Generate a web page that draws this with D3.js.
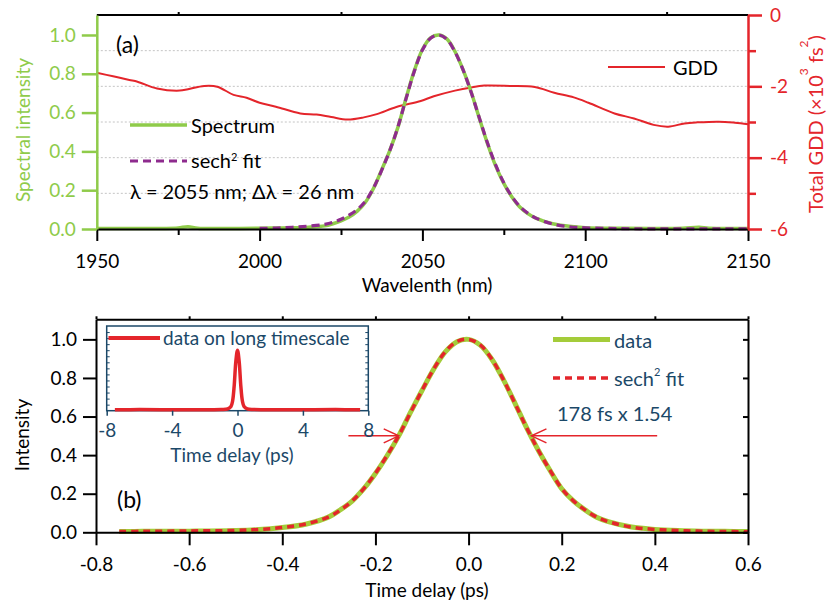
<!DOCTYPE html>
<html>
<head>
<meta charset="utf-8">
<script src="https://cdn.jsdelivr.net/npm/d3@7"></script>
<style>
  body { margin: 0; background: #fff; }
  svg { display: block; font-family: Lato, "Open Sans", sans-serif; }
</style>
</head>
<body>
<svg id="fig" width="828" height="603"></svg>
<script>
// ---------- Panel (a): spectrum and group-delay dispersion ----------
const specWl = [1950,1960,1970,1975,1978,1981,1990,2000,2005,2010,2015,2020,2022.5,2025,2027.5,2030,2032.5,2035,2037.5,2040,2042.5,2045,2047.5,2050,2052.5,2055,2057.5,2060,2062.5,2065,2067.5,2070,2072.5,2075,2077.5,2080,2082.5,2085,2090,2095,2100,2110,2120,2130,2135,2138,2150];
const specVal = [0.003,0.003,0.003,0.005,0.012,0.004,0.003,0.004,0.005,0.006,0.009,0.016,0.027,0.042,0.062,0.092,0.138,0.21,0.305,0.405,0.525,0.675,0.815,0.925,0.985,1.0,0.98,0.915,0.82,0.705,0.57,0.44,0.325,0.235,0.165,0.112,0.078,0.055,0.027,0.014,0.007,0.004,0.003,0.004,0.009,0.004,0.003];

const fitWl = [2000,2005,2010,2015,2020,2022.5,2025,2027.5,2030,2032.5,2035,2037.5,2040,2042.5,2045,2047.5,2050,2052.5,2055,2057.5,2060,2062.5,2065,2067.5,2070,2072.5,2075,2077.5,2080,2082.5,2085,2090,2095,2100,2110,2120,2130,2140,2150];
const fitVal = [0.003,0.005,0.009,0.015,0.024,0.034,0.05,0.072,0.1,0.143,0.212,0.303,0.405,0.527,0.673,0.812,0.922,0.983,1.0,0.978,0.913,0.82,0.703,0.572,0.443,0.33,0.238,0.167,0.115,0.08,0.055,0.026,0.012,0.006,0.002,0.001,0.001,0.001,0.001];

const gddWl = [1950,1955,1960,1962.5,1968.5,1975.5,1978,1983,1987,1992,1996,2000,2005,2012.5,2017.5,2022,2027,2032,2036,2042,2049.5,2053.5,2060,2065,2069,2077,2084.5,2090.5,2096.5,2101,2109,2115,2121,2125.5,2130.5,2134.5,2141,2146,2150];
const gddVal = [-1.62,-1.72,-1.82,-1.87,-2.06,-2.12,-2.08,-1.99,-2.01,-2.24,-2.32,-2.46,-2.57,-2.76,-2.79,-2.86,-2.93,-2.87,-2.78,-2.58,-2.41,-2.28,-2.12,-2.03,-1.98,-1.99,-2.02,-2.18,-2.31,-2.46,-2.76,-2.90,-3.08,-3.13,-3.04,-3.01,-2.99,-3.02,-3.06];

const wlTicks = [1950,2000,2050,2100,2150];
const wlMinor = [1975,2025,2075,2125];
const specTicks = [0,0.2,0.4,0.6,0.8,1.0];
const gddTicks = [0,-2,-4,-6];
const gddMinor = [-1,-3,-5];

// ---------- Panel (b): autocorrelation ----------
const acfT = [-0.75,-0.7,-0.6,-0.5,-0.45,-0.4,-0.35,-0.3,-0.275,-0.25,-0.225,-0.2,-0.175,-0.15,-0.125,-0.1,-0.075,-0.05,-0.025,0,0.025,0.05,0.075,0.1,0.125,0.15,0.175,0.2,0.225,0.25,0.275,0.3,0.35,0.4,0.45,0.5,0.55,0.6];
const acfVal = [0.004,0.005,0.006,0.009,0.014,0.025,0.042,0.08,0.117,0.162,0.226,0.305,0.397,0.5,0.62,0.735,0.845,0.935,0.988,1.0,0.97,0.897,0.79,0.667,0.54,0.424,0.32,0.226,0.163,0.116,0.078,0.055,0.027,0.015,0.009,0.006,0.005,0.004];
const acfFit = [0.004,0.005,0.007,0.010,0.015,0.025,0.043,0.08,0.116,0.162,0.226,0.306,0.398,0.5,0.619,0.735,0.846,0.936,0.989,1.0,0.971,0.898,0.79,0.666,0.54,0.424,0.321,0.227,0.163,0.116,0.079,0.055,0.027,0.015,0.009,0.006,0.004,0.003];

const longT = [-7.5,-6,-4,-2,-1,-0.6,-0.4,-0.3,-0.2,-0.1,0,0.1,0.2,0.3,0.4,0.6,1,2,4,6,7.5];
const longVal = [0.015,0.018,0.015,0.017,0.02,0.03,0.07,0.16,0.42,0.82,1.0,0.82,0.42,0.16,0.07,0.03,0.02,0.017,0.015,0.018,0.015];

const tTicks = [-0.8,-0.6,-0.4,-0.2,0,0.2,0.4,0.6];
const iTicks = [0,0.2,0.4,0.6,0.8,1.0];
const longTicks = [-8,-4,0,4,8];
const halfMax = [-0.15, 0.135];   // times of the 50 % points marked by the arrows

// ---------- colours ----------
const GREEN_A = "#8fcb4a", GREEN_B = "#a4cc3a", RED = "#e4252b", PURPLE = "#8e2b8e", NAVY = "#1b4868";

const svg = d3.select("#fig");

function clean(g) {
  g.attr("font-family", null).attr("font-size", null);
  return g;
}
function paint(g, color, w) {
  g.select(".domain").attr("stroke", color).attr("stroke-width", w);
  g.selectAll(".tick line").attr("stroke", color).attr("stroke-width", w);
  g.selectAll(".tick text").attr("fill", color).attr("font-size", 19);
  return g;
}
// text with a raised small "2"/"3" style exponent: parts = [[text, isSup], ...]
function richText(sel, parts, supSize, rise) {
  let up = false;
  parts.forEach(([s, sup]) => {
    const t = sel.append("tspan").text(s);
    if (sup && !up) { t.attr("font-size", supSize).attr("dy", -rise); up = true; }
    else if (!sup && up) { t.attr("dy", rise); up = false; }
    else if (sup) t.attr("font-size", supSize);
  });
  return sel;
}

// ================= Panel (a) =================
const xA = d3.scaleLinear().domain([1950, 2150]).range([96.8, 748]);
const yA = d3.scaleLinear().domain([0, 1.103]).range([229, 15]);
const yG = d3.scaleLinear().domain([-6, 0]).range([229, 15]);

// dotted grid at the GDD levels
svg.append("g").selectAll("line").data([-5,-4,-3,-2,-1]).join("line")
  .attr("x1", xA(1950)).attr("x2", xA(2150))
  .attr("y1", d => yG(d)).attr("y2", d => yG(d))
  .attr("stroke", "#c4c4c4").attr("stroke-width", 1).attr("stroke-dasharray", "2,2");

const lineA = d3.line().curve(d3.curveCatmullRom.alpha(0.5));

svg.append("path")
  .attr("d", lineA(gddWl.map((w, i) => [xA(w), yG(gddVal[i])])))
  .attr("fill", "none").attr("stroke", RED).attr("stroke-width", 2);

svg.append("path")
  .attr("d", lineA(specWl.map((w, i) => [xA(w), yA(specVal[i])])))
  .attr("fill", "none").attr("stroke", GREEN_A).attr("stroke-width", 3.5);

svg.append("path")
  .attr("d", lineA(fitWl.map((w, i) => [xA(w), yA(fitVal[i])])))
  .attr("fill", "none").attr("stroke", PURPLE).attr("stroke-width", 3.2)
  .attr("stroke-dasharray", "8,5");

// top frame
svg.append("line").attr("x1", xA(1950)).attr("x2", xA(2150)).attr("y1", 15).attr("y2", 15)
  .attr("stroke", "#000").attr("stroke-width", 2);
paint(clean(svg.append("g").attr("transform", "translate(0,15)")
  .call(d3.axisTop(xA).tickValues(wlMinor).tickSize(3).tickSizeOuter(0).tickFormat(""))), "#000", 2)
  .select(".domain").remove();

// bottom wavelength axis
const gxA = clean(svg.append("g").attr("transform", "translate(0,229)")
  .call(d3.axisBottom(xA).tickValues(wlTicks).tickSize(12).tickSizeOuter(0).tickFormat(d => String(d))));
paint(gxA, "#000", 2);
gxA.selectAll(".tick text").attr("y", 39).attr("dy", null);
paint(clean(svg.append("g").attr("transform", "translate(0,229)")
  .call(d3.axisBottom(xA).tickValues(wlMinor).tickSize(6).tickSizeOuter(0).tickFormat(""))), "#000", 2)
  .select(".domain").remove();

// left spectral-intensity axis
const gyA = clean(svg.append("g").attr("transform", `translate(${xA(1950)},0)`)
  .call(d3.axisLeft(yA).tickValues(specTicks).tickSize(15).tickSizeOuter(0).tickPadding(6).tickFormat(d => d.toFixed(1))));
paint(gyA, GREEN_A, 2.5);

// right GDD axis
const gyG = clean(svg.append("g").attr("transform", `translate(${xA(2150)},0)`)
  .call(d3.axisRight(yG).tickValues(gddTicks).tickSize(14).tickSizeOuter(0).tickPadding(8).tickFormat(d => String(d))));
paint(gyG, RED, 2.5);
paint(clean(svg.append("g").attr("transform", `translate(${xA(2150)},0)`)
  .call(d3.axisRight(yG).tickValues(gddMinor).tickSize(8).tickSizeOuter(0).tickFormat(""))), RED, 2.5)
  .select(".domain").remove();

// axis titles
svg.append("text").attr("x", 427).attr("y", 292).attr("text-anchor", "middle")
  .attr("font-size", 19).attr("fill", "#000").text("Wavelenth (nm)");
svg.append("text").attr("transform", "translate(30,130) rotate(-90)").attr("text-anchor", "middle")
  .attr("font-size", 19).attr("fill", GREEN_A).text("Spectral intensity");
richText(svg.append("text").attr("transform", "translate(823,124) rotate(-90)")
  .attr("text-anchor", "middle").attr("font-size", 20).attr("fill", RED),
  [["Total GDD (×10", false], ["3", true], [" fs", false], ["2", true], [")", false]], 12, 15);

// panel label and legends
svg.append("text").attr("x", 116).attr("y", 53).attr("font-size", 23).attr("fill", "#000").text("(a)");

svg.append("line").attr("x1", 130).attr("x2", 187).attr("y1", 125).attr("y2", 125)
  .attr("stroke", GREEN_A).attr("stroke-width", 3.5);
svg.append("text").attr("x", 191).attr("y", 133).attr("font-size", 20).text("Spectrum");
svg.append("line").attr("x1", 130).attr("x2", 187).attr("y1", 161).attr("y2", 161)
  .attr("stroke", PURPLE).attr("stroke-width", 3.2).attr("stroke-dasharray", "8,5");
richText(svg.append("text").attr("x", 191).attr("y", 168).attr("font-size", 20),
  [["sech", false], ["2", true], [" fit", false]], 11, 7);
svg.append("text").attr("x", 130).attr("y", 199).attr("font-size", 20).text("λ = 2055 nm; Δλ = 26 nm");

svg.append("line").attr("x1", 608).attr("x2", 665).attr("y1", 67).attr("y2", 67)
  .attr("stroke", RED).attr("stroke-width", 2);
svg.append("text").attr("x", 673).attr("y", 75).attr("font-size", 20).text("GDD");

// ================= Panel (b) =================
const xB = d3.scaleLinear().domain([-0.8, 0.6]).range([96, 748]);
const yB = d3.scaleLinear().domain([0, 1.104]).range([532.3, 319.3]);

const lineB = d3.line().curve(d3.curveCatmullRom.alpha(0.5));

svg.append("path")
  .attr("d", lineB(acfT.map((t, i) => [xB(t), yB(acfVal[i])])))
  .attr("fill", "none").attr("stroke", GREEN_B).attr("stroke-width", 5);
svg.append("path")
  .attr("d", lineB(acfT.map((t, i) => [xB(t), yB(acfFit[i])])))
  .attr("fill", "none").attr("stroke", RED).attr("stroke-width", 3.5)
  .attr("stroke-dasharray", "7,5");

// frame: top and right edges
paint(clean(svg.append("g").attr("transform", `translate(0,${yB.range()[1]})`)
  .call(d3.axisTop(xB).tickValues(tTicks).tickSize(3).tickSizeOuter(0).tickFormat(""))), "#000", 2);
paint(clean(svg.append("g").attr("transform", `translate(${xB(0.6)},0)`)
  .call(d3.axisLeft(yB).tickValues(iTicks).tickSize(5).tickSizeOuter(0).tickFormat(""))), "#000", 2);

const gxB = clean(svg.append("g").attr("transform", `translate(0,${yB(0)})`)
  .call(d3.axisBottom(xB).tickValues(tTicks).tickSize(13).tickSizeOuter(0).tickFormat(d => d.toFixed(1))));
paint(gxB, "#000", 2);
gxB.selectAll(".tick text").attr("y", 38.5).attr("dy", null);

const gyB = clean(svg.append("g").attr("transform", `translate(${xB(-0.8)},0)`)
  .call(d3.axisLeft(yB).tickValues(iTicks).tickSize(13).tickSizeOuter(0).tickPadding(6).tickFormat(d => d.toFixed(1))));
paint(gyB, "#000", 2);

svg.append("text").attr("x", 427).attr("y", 597).attr("text-anchor", "middle")
  .attr("font-size", 19).attr("fill", "#000").text("Time delay (ps)");
svg.append("text").attr("transform", "translate(29,435) rotate(-90)").attr("text-anchor", "middle")
  .attr("font-size", 19).attr("fill", "#000").text("Intensity");
svg.append("text").attr("x", 117).attr("y", 508).attr("font-size", 23).attr("fill", "#000").text("(b)");

// legend
svg.append("line").attr("x1", 553).attr("x2", 610).attr("y1", 339.5).attr("y2", 339.5)
  .attr("stroke", GREEN_B).attr("stroke-width", 5);
svg.append("text").attr("x", 614).attr("y", 348).attr("font-size", 20).attr("fill", NAVY).text("data");
svg.append("line").attr("x1", 553).attr("x2", 610).attr("y1", 378).attr("y2", 378)
  .attr("stroke", RED).attr("stroke-width", 3.5).attr("stroke-dasharray", "7,5");
richText(svg.append("text").attr("x", 614).attr("y", 386).attr("font-size", 20).attr("fill", NAVY),
  [["sech", false], ["2", true], [" fit", false]], 11, 10);
svg.append("text").attr("x", 557).attr("y", 421).attr("font-size", 20).attr("fill", NAVY).text("178 fs x 1.54");

// arrows pointing at the half-maximum points
function arrow(tTail, tTip) {
  const x0 = xB(tTail), x1 = xB(tTip), y = yB(0.5), s = Math.sign(x1 - x0);
  const g = svg.append("g").attr("stroke", RED).attr("stroke-width", 1.5).attr("fill", "none");
  g.append("line").attr("x1", x0).attr("x2", x1).attr("y1", y).attr("y2", y);
  g.append("path").attr("d", `M${x1 - s * 15},${y - 7} L${x1},${y} L${x1 - s * 15},${y + 7}`);
}
arrow(-0.258, halfMax[0]);
arrow(0.405, halfMax[1]);

// ---------- inset: long time scale ----------
const xI = d3.scaleLinear().domain([-8, 8]).range([106.7, 368.3]);
const yI = d3.scaleLinear().domain([0, 1.4]).range([410.7, 326]);

svg.append("rect").attr("x", xI(-8)).attr("y", yI(1.4))
  .attr("width", xI(8) - xI(-8)).attr("height", yI(0) - yI(1.4))
  .attr("fill", "#fff").attr("stroke", NAVY).attr("stroke-width", 1.5);

const innerTicks = d3.range(1, 14).map(i => i / 10);
svg.append("g").attr("transform", `translate(${xI(-8)},0)`)
  .call(d3.axisRight(yI).tickValues(innerTicks).tickSize(3).tickSizeOuter(0).tickFormat(""))
  .call(g => { g.select(".domain").remove(); g.selectAll("line").attr("stroke", NAVY).attr("stroke-width", 1); });
svg.append("g").attr("transform", `translate(${xI(8)},0)`)
  .call(d3.axisLeft(yI).tickValues(innerTicks).tickSize(3).tickSizeOuter(0).tickFormat(""))
  .call(g => { g.select(".domain").remove(); g.selectAll("line").attr("stroke", NAVY).attr("stroke-width", 1); });

svg.append("path")
  .attr("d", d3.line().curve(d3.curveCatmullRom.alpha(0.5))(longT.map((t, i) => [xI(t), yI(longVal[i])])))
  .attr("fill", "none").attr("stroke", RED).attr("stroke-width", 3.5);

const gxI = clean(svg.append("g").attr("transform", `translate(0,${yI(0)})`)
  .call(d3.axisBottom(xI).tickValues(longTicks).tickSize(5).tickSizeOuter(0).tickFormat(d => String(d))));
paint(gxI, NAVY, 1.5);
gxI.select(".domain").remove();
gxI.selectAll(".tick text").attr("y", 26).attr("dy", null);

svg.append("text").attr("x", 232).attr("y", 461.5).attr("text-anchor", "middle")
  .attr("font-size", 19).attr("fill", NAVY).text("Time delay (ps)");

svg.append("line").attr("x1", 108.5).attr("x2", 160).attr("y1", 338).attr("y2", 338)
  .attr("stroke", RED).attr("stroke-width", 4);
svg.append("text").attr("x", 163).attr("y", 344.5).attr("font-size", 19).attr("fill", NAVY)
  .text("data on long timescale");
</script>
</body>
</html>
